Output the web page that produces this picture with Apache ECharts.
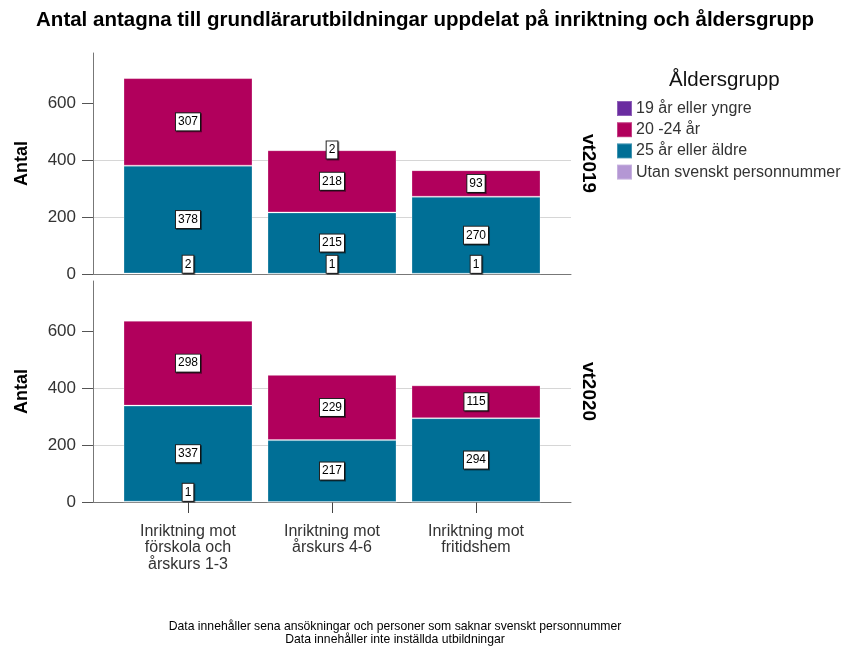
<!DOCTYPE html>
<html>
<head>
    <meta charset="utf-8">
    <title>Antal antagna</title>
    <script src="https://cdn.jsdelivr.net/npm/echarts@6/dist/echarts.min.js"></script>
</head>
<body style="margin:0">
<div id="main" style="width:844px;height:652px;"></div>
<script type="text/javascript">
// kategorier och värden
var categories = ['Inriktning mot\nförskola och\nårskurs 1-3', 'Inriktning mot\nårskurs 4-6', 'Inriktning mot\nfritidshem'];
var terms = ['vt2019', 'vt2020'];
var ageGroups = ['19 år eller yngre', '20 -24 år', '25 år eller äldre', 'Utan svenskt personnummer'];
var ageColors = ['#6a2ca0', '#b1005c', '#006f96', '#b497d4'];

var yngre19_vt2019 = [0, 2, 0];
var ar20_24_vt2019 = [307, 218, 93];
var aldre25_vt2019 = [378, 215, 270];
var utanPnr_vt2019 = [2, 1, 1];

var yngre19_vt2020 = [0, 0, 0];
var ar20_24_vt2020 = [298, 229, 115];
var aldre25_vt2020 = [337, 217, 294];
var utanPnr_vt2020 = [1, 0, 0];

var yTicks = [0, 200, 400, 600];
var yMax = 775;

var panelData = [
    [yngre19_vt2019, ar20_24_vt2019, aldre25_vt2019, utanPnr_vt2019],
    [yngre19_vt2020, ar20_24_vt2020, aldre25_vt2020, utanPnr_vt2020]
];

var font = 'Liberation Sans, Arial, sans-serif';
var myChart = echarts.init(document.getElementById('main'));

var tops = [53, 281];
var panelH = 221;

var grids = [], xAxes = [], yAxes = [], series = [];
tops.forEach(function (top, p) {
    // ram: y-axel, rutnät, baslinje
    grids.push({left: 93, top: top, width: 478, height: panelH});
    // staplar
    grids.push({left: 116, top: top, width: 432, height: panelH});
    var last = p === tops.length - 1;
    xAxes.push({
        type: 'value', gridIndex: p * 2, min: 0, max: 1,
        axisLine: {show: true, lineStyle: {color: '#777', width: 1}},
        axisTick: {show: false}, axisLabel: {show: false}, splitLine: {show: false}
    });
    xAxes.push({
        type: 'category', gridIndex: p * 2 + 1, data: categories,
        axisLine: {show: false},
        axisTick: {show: last, alignWithLabel: true, length: 11, lineStyle: {color: '#444'}},
        axisLabel: {show: last, fontSize: 16, color: '#333', fontFamily: font, lineHeight: 16.7, margin: 21}
    });
    yAxes.push({
        type: 'value', gridIndex: p * 2, min: 0, max: yMax, interval: 200,
        name: 'Antal', nameLocation: 'middle', nameGap: 62,
        nameTextStyle: {fontSize: 18, fontWeight: 'bold', color: '#000', fontFamily: font},
        axisLine: {show: true, lineStyle: {color: '#777', width: 1}},
        axisTick: {show: true, length: 11, customValues: yTicks, lineStyle: {color: '#555'}},
        axisLabel: {fontSize: 17, color: '#333', fontFamily: font, margin: 17, customValues: yTicks},
        splitLine: {show: true, showMaxLine: false, showMinLine: false, lineStyle: {color: '#d6d6d6', width: 1}}
    });
    yAxes.push({
        type: 'value', gridIndex: p * 2 + 1, min: 0, max: yMax, show: false
    });

    // staplingsordning nerifrån: utan pnr, 25+, 20-24, 19
    [3, 2, 1, 0].forEach(function (g) {
        var vals = panelData[p][g];
        series.push({
            name: ageGroups[g],
            type: 'bar',
            stack: 'panel' + p,
            xAxisIndex: p * 2 + 1,
            yAxisIndex: p * 2 + 1,
            barWidth: 129,
            itemStyle: {color: ageColors[g], borderColor: 'rgba(255,255,255,0.25)', borderWidth: 1},
            label: {
                show: true,
                position: g === 3 ? 'insideBottom' : 'inside',
                distance: 1.5,
                fontSize: 12, color: '#000', fontFamily: font,
                backgroundColor: '#fff', borderColor: '#222', borderWidth: 1,
                padding: [3, 2, 2, 2],
                shadowColor: 'rgba(0,0,0,0.45)', shadowOffsetX: 1, shadowOffsetY: 1
            },
            data: vals.map(function (v) {
                return {value: v, label: {show: v > 0}};
            })
        });
    });
});

var option = {
    animation: false,
    backgroundColor: '#fff',
    title: {
        text: 'Antal antagna till grundlärarutbildningar uppdelat på inriktning och åldersgrupp',
        left: 420, top: 5, textAlign: 'center',
        textStyle: {fontSize: 20.5, fontWeight: 'bold', color: '#000', fontFamily: font}
    },
    legend: {
        data: ageGroups,
        orient: 'vertical',
        left: 611, top: 95,
        itemWidth: 15, itemHeight: 15, itemGap: 4.2,
        icon: 'rect',
        textStyle: {fontSize: 16, color: '#333', fontFamily: font, padding: [0, 0, 0, -1]}
    },
    grid: grids,
    xAxis: xAxes,
    yAxis: yAxes,
    series: series,
    graphic: [
        {type: 'text', left: 669, top: 70, style: {text: 'Åldersgrupp', font: '20.5px ' + font, fill: '#111'}},
        {type: 'text', x: 588, y: 53 + panelH / 2, rotation: -Math.PI / 2,
         style: {text: terms[0], font: 'bold 19px ' + font, fill: '#000', align: 'center', verticalAlign: 'middle'}},
        {type: 'text', x: 588, y: 281 + panelH / 2, rotation: -Math.PI / 2,
         style: {text: terms[1], font: 'bold 19px ' + font, fill: '#000', align: 'center', verticalAlign: 'middle'}},
        {type: 'text', x: 395, y: 620,
         style: {text: 'Data innehåller sena ansökningar och personer som saknar svenskt personnummer\nData innehåller inte inställda utbildningar',
                 font: '12.2px ' + font, fill: '#000', align: 'center', lineHeight: 13}}
    ]
};
myChart.setOption(option);
</script>
</body>
</html>
